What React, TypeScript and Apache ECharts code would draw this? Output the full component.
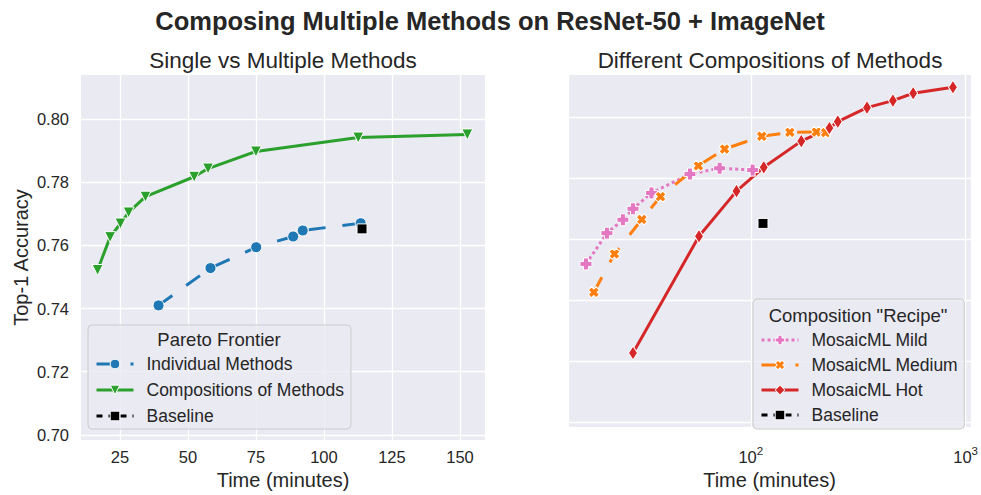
import React, { useEffect, useRef } from "react";
import * as echarts from "echarts";

// ---------- data ----------
const indivTime = [39.2, 58.3, 75.1, 88.7, 92.2, 113.5];
const indivAcc = [0.741, 0.7528, 0.7594, 0.7628, 0.7647, 0.767];

const compTime = [16.8, 21.4, 25.2, 28.2, 34.4, 52.3, 57.4, 75.0, 112.6, 152.7];
const compAcc = [0.7522, 0.7626, 0.7669, 0.7704, 0.7754, 0.7817, 0.7843, 0.7897, 0.7941, 0.7951];

const baselineTime = [114];
const baselineAcc = [0.7652];

const mildTime = [17.1, 21.4, 25.4, 28.3, 34.5, 52.1, 71.6, 102];
const mildAcc = [0.7519, 0.762, 0.7664, 0.77, 0.7752, 0.7814, 0.7833, 0.7827];

const mediumTime = [18.6, 23.2, 31.1, 38.0, 57.0, 75.5, 112.5, 152, 202, 223];
const mediumAcc = [0.7426, 0.7552, 0.7665, 0.774, 0.7841, 0.7896, 0.7938, 0.7951, 0.7952, 0.795];

const hotTime = [28.3, 57.4, 85.8, 114.9, 171.8, 232.3, 254.1, 347.5, 458.7, 570, 873];
const hotAcc = [0.7227, 0.761, 0.7758, 0.7836, 0.7922, 0.7965, 0.7986, 0.8032, 0.8055, 0.8079, 0.8099];

const xTicksLeft = [25, 50, 75, 100, 125, 150];
const yTicks = [0.7, 0.72, 0.74, 0.76, 0.78, 0.8];

const mainTitle = "Composing Multiple Methods on ResNet-50 + ImageNet";
const leftTitle = "Single vs Multiple Methods";
const rightTitle = "Different Compositions of Methods";
const xName = "Time (minutes)";
const yName = "Top-1 Accuracy";
const leftLegendTitle = "Pareto Frontier";
const rightLegendTitle = 'Composition "Recipe"';

// ---------- helpers ----------
const FONT = '"Liberation Sans", Arial, sans-serif';
const TXT = "#262626";
const zip = (xs: number[], ys: number[]) => xs.map((x, i) => [x, ys[i]]);
const PLUS = "path://M-1.25,-3H1.25V-1.25H3V1.25H1.25V3H-1.25V1.25H-3V-1.25H-1.25Z";

const C_BLUE = "#1f77b4";
const C_GREEN = "#2ca02c";
const C_PINK = "#e377c2";
const C_ORANGE = "#ff7f0e";
const C_RED = "#d62728";

const splitLine = { show: true, lineStyle: { color: "#ffffff", width: 1.3 } };

function lineSeries(name: string, xi: number, data: number[][], color: string, type: any, symbol: string, size: any, rotate = 0) {
  return {
    type: "line",
    name,
    xAxisIndex: xi,
    yAxisIndex: xi,
    data,
    symbol,
    symbolSize: size,
    symbolRotate: rotate,
    showAllSymbol: true,
    lineStyle: { color, width: 3, type },
    itemStyle: { color, borderColor: "#ffffff", borderWidth: 1 },
    emphasis: { disabled: true },
  };
}

function legendCfg(names: string[], left: number, top: number, padding: number[], gap: number) {
  return {
    data: names,
    orient: "vertical",
    left,
    top,
    padding,
    itemWidth: 37,
    itemHeight: 12,
    itemGap: gap,
    backgroundColor: "rgba(234,234,242,0.8)",
    borderColor: "#cccccc",
    borderWidth: 1,
    borderRadius: 4,
    selectedMode: false,
    lineStyle: { width: "inherit" },
    itemStyle: { borderWidth: "inherit" },
    textStyle: { fontSize: 17.5, color: TXT, fontFamily: FONT, lineHeight: 20, padding: [0, 0, 0, 8] },
  };
}

export default function App() {
  const ref = useRef<HTMLDivElement>(null);
  useEffect(() => {
    if (!ref.current) return;
    const chart = echarts.init(ref.current, null, { renderer: "svg" });
    const option: any = {
      animation: false,
      backgroundColor: "#ffffff",
      textStyle: { fontFamily: FONT, color: TXT },
      grid: [
        { left: 81, top: 75, width: 404, height: 365, show: true, backgroundColor: "#EAEAF2", borderWidth: 0 },
        { left: 568, top: 75, width: 404, height: 365, show: true, backgroundColor: "#EAEAF2", borderWidth: 0 },
      ],
      xAxis: [
        {
          type: "value",
          gridIndex: 0,
          min: 10.7,
          max: 159.2,
          axisLine: { show: false },
          axisTick: { show: false, customValues: xTicksLeft },
          axisLabel: { customValues: xTicksLeft, fontSize: 16.5, color: TXT, margin: 8, fontFamily: FONT },
          splitLine,
          name: xName,
          nameLocation: "middle",
          nameGap: 29,
          nameTextStyle: { fontSize: 20, color: TXT, fontFamily: FONT },
        },
        {
          type: "log",
          logBase: 10,
          gridIndex: 1,
          min: 14.1,
          max: 1059,
          axisLine: { show: false },
          axisTick: { show: false },
          axisLabel: {
            margin: 18,
            fontFamily: FONT,
            showMinLabel: false,
            showMaxLabel: false,
            formatter: (v: number) => {
              const l = Math.log10(v);
              const r = Math.round(l);
              if (Math.abs(l - r) > 1e-6) return "";
              return "{b|10}{s|" + String(r) + "}";
            },
            rich: {
              b: { fontSize: 16.5, color: TXT, fontFamily: FONT, lineHeight: 20, verticalAlign: "bottom" },
              s: { fontSize: 11.5, color: TXT, fontFamily: FONT, lineHeight: 12, verticalAlign: "top" },
            },
          },
          splitLine,
          name: xName,
          nameLocation: "middle",
          nameGap: 43,
          nameTextStyle: { fontSize: 20, color: TXT, fontFamily: FONT },
        },
      ],
      yAxis: [
        {
          type: "value",
          gridIndex: 0,
          min: 0.6984,
          max: 0.8139,
          axisLine: { show: false },
          axisTick: { show: false, customValues: yTicks },
          axisLabel: {
            customValues: yTicks,
            fontSize: 16.5,
            color: TXT,
            margin: 12,
            fontFamily: FONT,
            formatter: (v: number) => v.toFixed(2),
          },
          splitLine,
          name: yName,
          nameLocation: "middle",
          nameGap: 50,
          nameTextStyle: { fontSize: 20, color: TXT, fontFamily: FONT },
        },
        {
          type: "value",
          gridIndex: 1,
          min: 0.6984,
          max: 0.8139,
          axisLine: { show: false },
          axisTick: { show: false, customValues: yTicks },
          axisLabel: { show: false, customValues: yTicks },
          splitLine,
        },
      ],
      legend: [
        legendCfg(["Individual Methods", "Compositions of Methods", "Baseline"], 88, 325, [29, 7, 3, 7], 6),
        legendCfg(["MosaicML Mild", "MosaicML Medium", "MosaicML Hot", "Baseline"], 753, 299, [31, 6, 4, 7], 5),
      ],
      graphic: [
        { type: "text", z: 100, x: 490, y: 21, style: { text: mainTitle, fill: TXT, fontSize: 25.5, fontWeight: "bold", fontFamily: FONT, align: "center", verticalAlign: "middle" } },
        { type: "text", z: 100, x: 283, y: 60, style: { text: leftTitle, fill: TXT, fontSize: 22.5, fontFamily: FONT, align: "center", verticalAlign: "middle" } },
        { type: "text", z: 100, x: 770, y: 60, style: { text: rightTitle, fill: TXT, fontSize: 22.5, fontFamily: FONT, align: "center", verticalAlign: "middle" } },
        { type: "text", z: 100, x: 219, y: 339, style: { text: leftLegendTitle, fill: TXT, fontSize: 18.5, fontFamily: FONT, align: "center", verticalAlign: "middle" } },
        { type: "text", z: 100, x: 858, y: 315, style: { text: rightLegendTitle, fill: TXT, fontSize: 18.5, fontFamily: FONT, align: "center", verticalAlign: "middle" } },
      ],
      series: [
        lineSeries("Individual Methods", 0, zip(indivTime, indivAcc), C_BLUE, [17, 17], "circle", 11),
        lineSeries("Compositions of Methods", 0, zip(compTime, compAcc), C_GREEN, "solid", "triangle", 11, 180),
        lineSeries("Baseline", 0, zip(baselineTime, baselineAcc), "#000000", [6, 6], "rect", 10),
        lineSeries("MosaicML Mild", 1, zip(mildTime, mildAcc), C_PINK, [3, 3], PLUS, 12),
        lineSeries("MosaicML Medium", 1, zip(mediumTime, mediumAcc), C_ORANGE, [17, 17], PLUS, 11, 45),
        lineSeries("MosaicML Hot", 1, zip(hotTime, hotAcc), C_RED, "solid", "diamond", [9, 14]),
        lineSeries("Baseline", 1, zip(baselineTime, baselineAcc), "#000000", [6, 6], "rect", 10),
      ],
    };
    chart.setOption(option);
    return () => chart.dispose();
  }, []);
  return <div ref={ref} style={{ position: "absolute", left: 0, top: 0, width: 981, height: 495 }} />;
}
